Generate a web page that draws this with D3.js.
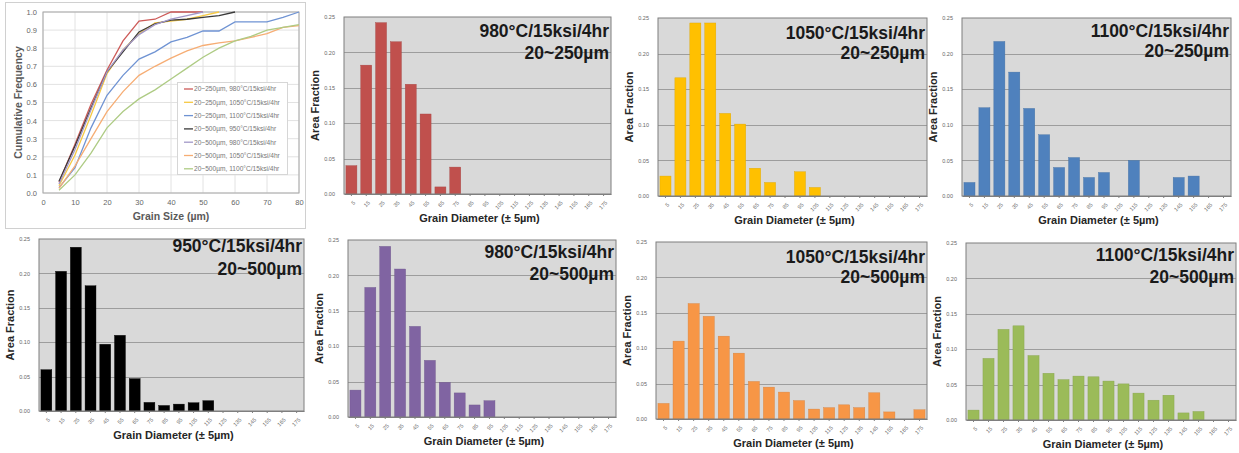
<!DOCTYPE html>
<html>
<head>
<meta charset="utf-8">
<script src="https://cdn.jsdelivr.net/npm/d3@7"></script>
<style>
	body { margin: 0; background: #fff; }
	svg { display: block; font-family: 'Liberation Sans', Arial, sans-serif; }
</style>
</head>
<body>
<svg id="chart" width="1239" height="453"></svg>
<script>
// ---- cumulative curve data (x = grain size, um)
var cumX = [5, 10, 15, 20, 25, 30, 35, 40, 45, 50, 55, 60, 65, 70, 75, 80];
var cum250_980 = [0.06, 0.27, 0.49, 0.68, 0.84, 0.95, 0.96, 1.0, 1.0, 1.0];
var cum250_1050 = [0.04, 0.21, 0.43, 0.66, 0.79, 0.88, 0.94, 0.95, 0.96, 0.98, 1.0];
var cum250_1100 = [0.03, 0.14, 0.36, 0.54, 0.65, 0.74, 0.78, 0.835, 0.86, 0.895, 0.895, 0.945, 0.945, 0.945, 0.97, 1.0];
var cum500_950 = [0.065, 0.26, 0.47, 0.67, 0.78, 0.89, 0.935, 0.955, 0.96, 0.97, 0.98, 1.0];
var cum500_980 = [0.05, 0.24, 0.46, 0.67, 0.79, 0.875, 0.93, 0.96, 0.98, 1.0];
var cum500_1050 = [0.025, 0.15, 0.3, 0.45, 0.56, 0.65, 0.7, 0.745, 0.785, 0.815, 0.83, 0.84, 0.86, 0.88, 0.915, 0.925];
var cum500_1100 = [0.015, 0.1, 0.22, 0.36, 0.45, 0.52, 0.57, 0.63, 0.69, 0.75, 0.8, 0.84, 0.865, 0.9, 0.915, 0.93];
var cumNames = [
	'20~250\u00b5m, 980\u00b0C/15ksi/4hr',
	'20~250\u00b5m, 1050\u00b0C/15ksi/4hr',
	'20~250\u00b5m, 1100\u00b0C/15ksi/4hr',
	'20~500\u00b5m, 950\u00b0C/15ksi/4hr',
	'20~500\u00b5m, 980\u00b0C/15ksi/4hr',
	'20~500\u00b5m, 1050\u00b0C/15ksi/4hr',
	'20~500\u00b5m, 1100\u00b0C/15ksi/4hr'
];
var cumTicksX = [0, 10, 20, 30, 40, 50, 60, 70, 80];
var cumTicksY = [0, 0.1, 0.2, 0.3, 0.4, 0.5, 0.6, 0.7, 0.8, 0.9, 1.0];

// ---- area fraction histograms (bins of 10um, labelled by centre)
var binLabels = ['5', '15', '25', '35', '45', '55', '65', '75', '85', '95', '105', '115', '125', '135', '145', '155', '165', '175'];
var af250_980 = [0.040, 0.182, 0.242, 0.215, 0.155, 0.113, 0.010, 0.038, 0, 0, 0, 0, 0, 0, 0, 0, 0, 0];
var af250_1050 = [0.028, 0.166, 0.243, 0.243, 0.116, 0.101, 0.039, 0.019, 0, 0.034, 0.012, 0, 0, 0, 0, 0, 0, 0];
var af250_1100 = [0.019, 0.124, 0.217, 0.174, 0.123, 0.086, 0.040, 0.054, 0.026, 0.033, 0, 0.050, 0, 0, 0.026, 0.028, 0, 0];
var af500_950 = [0.060, 0.203, 0.238, 0.182, 0.097, 0.110, 0.047, 0.0125, 0.008, 0.010, 0.012, 0.015, 0, 0, 0, 0, 0, 0];
var af500_980 = [0.038, 0.183, 0.241, 0.209, 0.128, 0.080, 0.049, 0.034, 0.017, 0.023, 0, 0, 0, 0, 0, 0, 0, 0];
var af500_1050 = [0.022, 0.110, 0.163, 0.145, 0.117, 0.093, 0.053, 0.045, 0.038, 0.026, 0.014, 0.016, 0.020, 0.016, 0.037, 0.010, 0, 0.013];
var af500_1100 = [0.014, 0.087, 0.128, 0.133, 0.091, 0.066, 0.057, 0.062, 0.061, 0.055, 0.051, 0.038, 0.028, 0.035, 0.010, 0.012, 0, 0];
var afTicks = [0, 0.05, 0.10, 0.15, 0.20, 0.25];

var svg = d3.select('#chart');

function drawCumulative() {
	var box = { left: 43, right: 299, top: 12, bottom: 193 };
	var colors = ['#cd5a58', '#f6c944', '#6f93d3', '#3a3a3a', '#a298c8', '#f6ad74', '#aecb84'];
	var series = [cum250_980, cum250_1050, cum250_1100, cum500_950, cum500_980, cum500_1050, cum500_1100];

	var g = svg.append('g');
	// panel frame
	g.append('rect')
		.attr('x', 5.5).attr('y', 2.5)
		.attr('width', 300).attr('height', 226)
		.attr('fill', '#fff')
		.attr('stroke', '#d0d0d0');

	var x = d3.scaleLinear().domain([0, 80]).range([box.left, box.right]);
	var y = d3.scaleLinear().domain([0, 1]).range([box.bottom, box.top]);

	// grid
	g.selectAll('.vg').data(cumTicksX).enter().append('line')
		.attr('x1', function(d) { return x(d); })
		.attr('x2', function(d) { return x(d); })
		.attr('y1', box.top).attr('y2', box.bottom)
		.attr('stroke', '#e2e2e2');
	g.selectAll('.hg').data(cumTicksY).enter().append('line')
		.attr('y1', function(d) { return y(d); })
		.attr('y2', function(d) { return y(d); })
		.attr('x1', box.left).attr('x2', box.right)
		.attr('stroke', '#e2e2e2');

	var xAxis = g.append('g')
		.attr('transform', 'translate(0,' + box.bottom + ')')
		.call(d3.axisBottom(x).tickValues(cumTicksX).tickSize(0).tickPadding(7));
	var yAxis = g.append('g')
		.attr('transform', 'translate(' + box.left + ',0)')
		.call(d3.axisLeft(y).tickValues(cumTicksY).tickFormat(d3.format('.1f')).tickSize(0).tickPadding(6));
	[xAxis, yAxis].forEach(function(a) {
		a.select('.domain').remove();
		a.selectAll('text').attr('fill', '#666').style('font-size', '7.5px');
	});

	g.append('rect')
		.attr('x', box.left).attr('y', box.top)
		.attr('width', box.right - box.left).attr('height', box.bottom - box.top)
		.attr('fill', 'none').attr('stroke', '#a8a8a8');

	var line = d3.line()
		.x(function(d, i) { return x(cumX[i]); })
		.y(function(d) { return y(d); });

	g.selectAll('.cum').data(series).enter().append('path')
		.attr('d', line)
		.attr('fill', 'none')
		.attr('stroke-width', 1.3)
		.attr('stroke', function(d, i) { return colors[i]; });

	g.append('text')
		.attr('x', (box.left + box.right) / 2).attr('y', 220)
		.attr('text-anchor', 'middle')
		.attr('fill', '#5a5a5a').style('font-weight', 'bold').style('font-size', '10.5px')
		.text('Grain Size (\u00b5m)');
	g.append('text')
		.attr('transform', 'translate(22,' + (box.top + box.bottom) / 2 + ') rotate(-90)')
		.attr('text-anchor', 'middle')
		.attr('fill', '#5a5a5a').style('font-weight', 'bold').style('font-size', '10.5px')
		.text('Cumulative Frequency');

	// legend
	var lg = g.append('g');
	lg.append('rect')
		.attr('x', 177.5).attr('y', 82.5).attr('width', 110).attr('height', 92)
		.attr('fill', '#fff').attr('stroke', '#d6d6d6');
	var rows = lg.selectAll('.lr').data(cumNames).enter().append('g')
		.attr('transform', function(d, i) { return 'translate(184,' + (89 + i * 13.3) + ')'; });
	rows.append('line')
		.attr('x1', 0).attr('x2', 9)
		.attr('stroke-width', 1.3)
		.attr('stroke', function(d, i) { return colors[i]; });
	rows.append('text')
		.attr('x', 10).attr('dy', '0.35em')
		.attr('fill', '#777').style('font-size', '6.6px')
		.text(function(d) { return d; });
}

function drawBars(values, color, box, title, titleDy) {
	var g = svg.append('g');
	var x = d3.scaleBand().domain(binLabels).range([box.left, box.right]).paddingInner(0.26).paddingOuter(0.13);
	var y = d3.scaleLinear().domain([0, 0.25]).range([box.bottom, box.top]);

	g.append('rect')
		.attr('x', box.left).attr('y', box.top)
		.attr('width', box.right - box.left).attr('height', box.bottom - box.top)
		.attr('fill', '#d9d9d9');

	g.selectAll('.grid').data(afTicks.slice(1, -1)).enter().append('line')
		.attr('x1', box.left).attr('x2', box.right)
		.attr('y1', function(d) { return Math.round(y(d)) + 0.5; })
		.attr('y2', function(d) { return Math.round(y(d)) + 0.5; })
		.attr('stroke', '#8e8e8e').attr('stroke-width', 0.8);

	g.selectAll('.bar').data(values).enter().append('rect')
		.attr('x', function(d, i) { return x(binLabels[i]); })
		.attr('width', x.bandwidth())
		.attr('y', function(d) { return y(d); })
		.attr('height', function(d) { return box.bottom - y(d); })
		.attr('fill', color)
		.attr('stroke', d3.color(color).darker(0.4))
		.attr('stroke-width', 0.4);

	g.append('rect')
		.attr('x', box.left).attr('y', box.top)
		.attr('width', box.right - box.left).attr('height', box.bottom - box.top)
		.attr('fill', 'none').attr('stroke', '#7f7f7f').attr('stroke-width', 1);

	var yAxis = g.append('g')
		.attr('transform', 'translate(' + box.left + ',0)')
		.call(d3.axisLeft(y).tickValues(afTicks).tickFormat(d3.format('.2f')).tickSize(0).tickPadding(9));
	yAxis.select('.domain').remove();
	yAxis.selectAll('text').attr('fill', '#666').style('font-size', '5.5px');

	var xAxis = g.append('g')
		.attr('transform', 'translate(0,' + box.bottom + ')')
		.call(d3.axisBottom(x).tickSize(2).tickSizeOuter(0));
	xAxis.select('.domain').attr('stroke', '#7f7f7f');
	xAxis.selectAll('line').attr('stroke', '#7f7f7f');
	xAxis.selectAll('text')
		.attr('fill', '#666').style('font-size', '5.5px')
		.attr('text-anchor', 'end')
		.attr('dy', '0.3em')
		.attr('transform', 'translate(3,8) rotate(-45)')
		.attr('y', 0).attr('x', 0);

	g.append('text')
		.attr('x', (box.left + box.right) / 2 + 2).attr('y', box.bottom + 28)
		.attr('text-anchor', 'middle')
		.attr('fill', '#262626').style('font-weight', 'bold').style('font-size', '11px')
		.text('Grain Diameter (\u00b1 5\u00b5m)');
	g.append('text')
		.attr('transform', 'translate(' + (box.left - 25) + ',' + (box.top + box.bottom) / 2 + ') rotate(-90)')
		.attr('text-anchor', 'middle')
		.attr('fill', '#262626').style('font-weight', 'bold').style('font-size', '11px')
		.text('Area Fraction');

	g.selectAll('.ttl').data(title).enter().append('text')
		.attr('x', box.right - 2)
		.attr('y', function(d, i) { return box.top + titleDy[i]; })
		.attr('text-anchor', 'end')
		.attr('fill', '#1a1a1a').style('font-weight', 'bold').style('font-size', '17.5px')
		.text(function(d) { return d; });
}

drawCumulative();
drawBars(af250_980, '#c0504d', { left: 344, right: 611, top: 17, bottom: 194 }, ['980\u00b0C/15ksi/4hr', '20~250\u00b5m'], [20, 42]);
drawBars(af250_1050, '#ffc000', { left: 658, right: 927, top: 18, bottom: 196 }, ['1050\u00b0C/15ksi/4hr', '20~250\u00b5m'], [21, 41]);
drawBars(af250_1100, '#4f81bd', { left: 962, right: 1231, top: 18, bottom: 196 }, ['1100\u00b0C/15ksi/4hr', '20~250\u00b5m'], [19, 39]);
drawBars(af500_950, '#000000', { left: 39, right: 304, top: 239, bottom: 411 }, ['950\u00b0C/15ksi/4hr', '20~500\u00b5m'], [13, 36]);
drawBars(af500_980, '#8064a2', { left: 348, right: 616, top: 240, bottom: 417 }, ['980\u00b0C/15ksi/4hr', '20~500\u00b5m'], [18, 40]);
drawBars(af500_1050, '#f79646', { left: 656, right: 927, top: 242, bottom: 419 }, ['1050\u00b0C/15ksi/4hr', '20~500\u00b5m'], [21, 41]);
drawBars(af500_1100, '#9bbb59', { left: 966, right: 1236, top: 243, bottom: 420 }, ['1100\u00b0C/15ksi/4hr', '20~500\u00b5m'], [18, 40]);
</script>
</body>
</html>
